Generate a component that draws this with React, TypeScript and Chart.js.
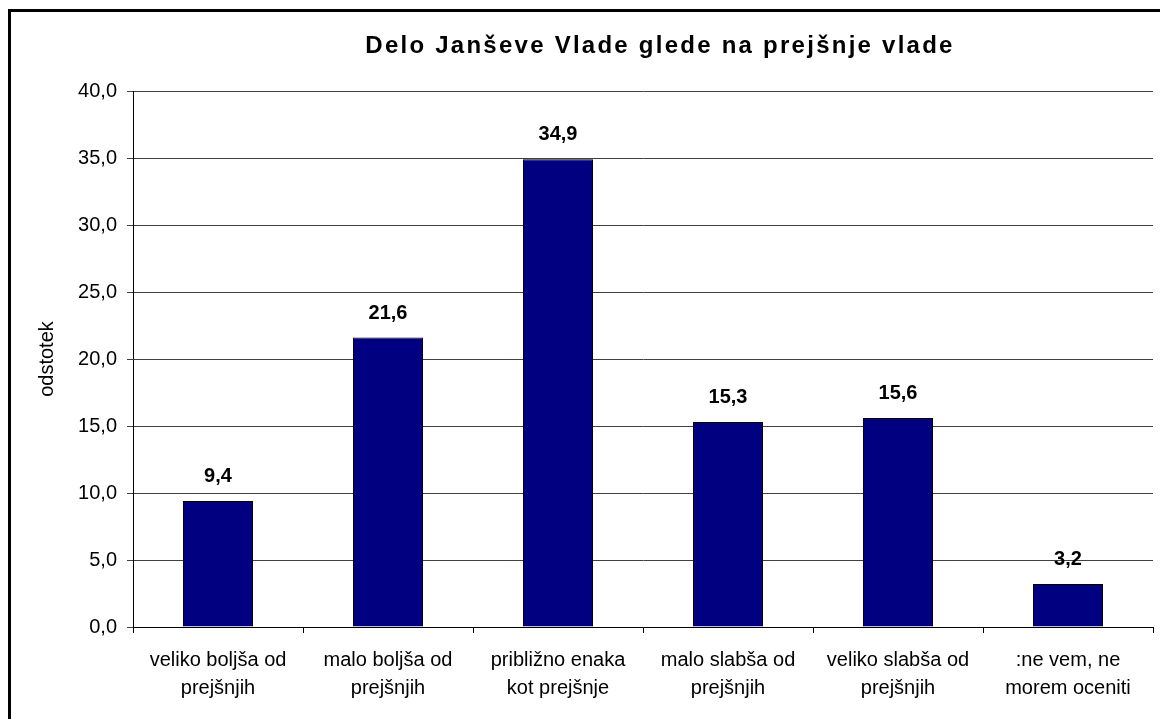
import React, { useEffect, useRef } from "react";
import { Chart, registerables } from "chart.js";

Chart.register(...registerables);

const categories: string[][] = [
  ["veliko boljša od", "prejšnjih"],
  ["malo boljša od", "prejšnjih"],
  ["približno enaka", "kot prejšnje"],
  ["malo slabša od", "prejšnjih"],
  ["veliko slabša od", "prejšnjih"],
  [":ne vem, ne", "morem oceniti"],
];
const values: number[] = [9.4, 21.6, 34.9, 15.3, 15.6, 3.2];
const titleText = "Delo Janševe Vlade glede na prejšnje vlade";
const yAxisTitle = "odstotek";
const yMin = 0;
const yMax = 40;
const yStep = 5;

const FONT = '"Liberation Sans", Arial, sans-serif';
const fmt = (v: number) => v.toFixed(1).replace(".", ",");

const decorPlugin = {
  id: "decor",
  beforeDraw(chart: any) {
    const ctx = chart.ctx as CanvasRenderingContext2D;
    ctx.save();
    ctx.fillStyle = "#fff";
    ctx.fillRect(0, 0, chart.width, chart.height);
    ctx.restore();
  },
  afterDraw(chart: any) {
    const ctx = chart.ctx as CanvasRenderingContext2D;
    ctx.save();
    // outer frame
    ctx.fillStyle = "#000";
    ctx.fillRect(8, 9, 3, chart.height - 9);
    ctx.fillRect(8, 9, chart.width - 8, 3);
    // title
    ctx.fillStyle = "#000";
    ctx.font = `bold 24px ${FONT}`;
    (ctx as any).letterSpacing = "2.25px";
    ctx.textAlign = "center";
    ctx.textBaseline = "alphabetic";
    ctx.fillText(titleText, 660, 53);
    (ctx as any).letterSpacing = "0px";
    // y axis title
    ctx.font = `20px ${FONT}`;
    ctx.translate(53, 359);
    ctx.rotate(-Math.PI / 2);
    ctx.fillText(yAxisTitle, 0, 0);
    ctx.restore();
  },
  afterDatasetsDraw(chart: any) {
    const ctx = chart.ctx as CanvasRenderingContext2D;
    const meta = chart.getDatasetMeta(0);
    ctx.save();
    ctx.fillStyle = "#000";
    ctx.font = `bold 20px ${FONT}`;
    ctx.textAlign = "center";
    ctx.textBaseline = "alphabetic";
    meta.data.forEach((bar: any, i: number) => {
      ctx.fillText(fmt(values[i]), bar.x, bar.y - 19);
    });
    ctx.restore();
  },
};

export default function App() {
  const ref = useRef<HTMLCanvasElement | null>(null);
  useEffect(() => {
    if (!ref.current) return;
    const chart = new Chart(ref.current, {
      type: "bar",
      data: {
        labels: categories,
        datasets: [
          {
            data: values,
            backgroundColor: "#000080",
            borderColor: "#000",
            borderWidth: 1,
            categoryPercentage: 1,
            barPercentage: 70 / 170,
          },
        ],
      },
      options: {
        animation: false,
        responsive: false,
        maintainAspectRatio: false,
        layout: { padding: { top: 91, right: 7, bottom: 0, left: 0 } },
        plugins: {
          legend: { display: false },
          tooltip: { enabled: false },
          title: { display: false },
        },
        scales: {
          x: {
            afterFit: (s: any) => {
              s.height = 92;
            },
            grid: {
              display: true,
              drawOnChartArea: false,
              drawTicks: true,
              tickLength: 6,
              offset: true,
              color: "#000",
            },
            border: { display: true, color: "#000", width: 1 },
            ticks: {
              color: "#000",
              font: { family: FONT, size: 20, lineHeight: 1.4 },
              padding: 13,
              maxRotation: 0,
              autoSkip: false,
            },
          },
          y: {
            min: yMin,
            max: yMax,
            afterFit: (s: any) => {
              s.width = 133;
            },
            grid: {
              color: "#404040",
              tickLength: 6,
              drawTicks: true,
            },
            border: { display: true, color: "#000", width: 1 },
            ticks: {
              stepSize: yStep,
              color: "#000",
              font: { family: FONT, size: 20 },
              padding: 10,
              callback: (v: any) => fmt(Number(v)),
            },
          },
        },
      },
      plugins: [decorPlugin],
    });
    return () => chart.destroy();
  }, []);
  return (
    <div
      style={{
        position: "absolute",
        left: 0,
        top: 0,
        width: 1160,
        height: 719,
        overflow: "hidden",
        background: "#fff",
      }}
    >
      <canvas ref={ref} width={1160} height={719} style={{ display: "block" }} />
    </div>
  );
}
